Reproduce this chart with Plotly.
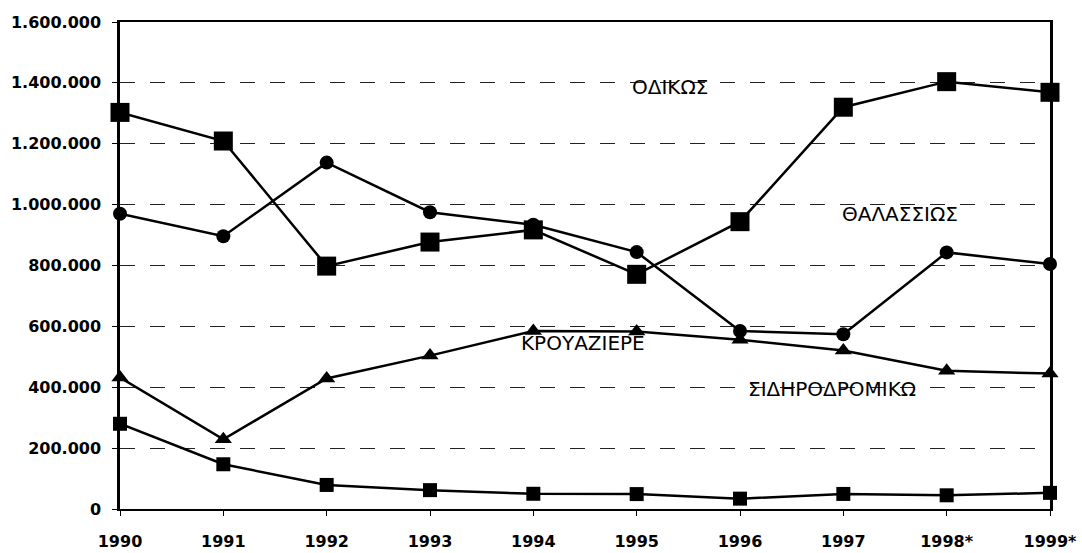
import plotly.graph_objects as go

# Passenger traffic by mode of transport, 1990-1999
years = ["1990", "1991", "1992", "1993", "1994", "1995", "1996", "1997", "1998*", "1999*"]

odikos = [1303000, 1209000, 798000, 877000, 917000, 771000, 944000, 1320000, 1404000, 1369000]
thalassios = [970000, 896000, 1138000, 975000, 934000, 844000, 585000, 574000, 843000, 805000]
krouaziera = [432000, 229000, 429000, 504000, 585000, 583000, 556000, 521000, 454000, 445000]
sidirodromiko = [280000, 147000, 79000, 62000, 50000, 49000, 34000, 49500, 45000, 53000]

y_ticks = [0, 200000, 400000, 600000, 800000, 1000000, 1200000, 1400000, 1600000]
y_tick_text = ["0", "200.000", "400.000", "600.000", "800.000",
               "1.000.000", "1.200.000", "1.400.000", "1.600.000"]

series_labels = ["ΟΔΙΚΩΣ", "ΘΑΛΑΣΣΙΩΣ", "ΚΡΟΥΑΖΙΕΡΕ", "ΣΙΔΗΡΟΔΡΟΜΙΚΩ"]
# label anchor positions (category index, value)
label_pos = [(5.32, 1385000), (7.55, 970000), (4.48, 544000), (6.89, 393000)]

x_idx = list(range(len(years)))

fig = go.Figure()

styles = [
    (odikos, "square", 19),
    (thalassios, "circle", 14),
    (krouaziera, "triangle-up", 15),
    (sidirodromiko, "square", 14),
]
for vals, sym, size in styles:
    fig.add_trace(go.Scatter(
        x=x_idx, y=vals, mode="lines+markers",
        line=dict(color="black", width=2.5),
        marker=dict(symbol=sym, size=size, color="black"),
        cliponaxis=False, showlegend=False,
    ))

for text, (xi, yv) in zip(series_labels, label_pos):
    fig.add_annotation(
        x=xi, y=yv, text=text, showarrow=False,
        font=dict(family="DejaVu Sans", size=20, color="black"),
        xanchor="center", yanchor="middle",
    )

fig.update_layout(
    width=1082, height=553,
    margin=dict(l=120, r=32, t=22, b=44),
    paper_bgcolor="white", plot_bgcolor="white",
    font=dict(family="DejaVu Sans", color="black"),
)

fig.update_xaxes(
    range=[0, 9], tickvals=x_idx, ticktext=years,
    tickfont=dict(family="DejaVu Sans", size=16, color="black", weight="bold"),
    ticklabelstandoff=12, automargin=False,
    showgrid=False, zeroline=False,
    showline=True, linecolor="black", linewidth=2, mirror=True,
    ticks="outside", ticklen=5, tickcolor="black", tickwidth=1,
)

fig.update_yaxes(
    range=[0, 1600000], tickvals=y_ticks, ticktext=y_tick_text,
    tickfont=dict(family="DejaVu Sans", size=16, color="black", weight="bold"),
    ticklabelstandoff=8, automargin=False,
    showgrid=True, gridcolor="#222", gridwidth=1, griddash="longdash",
    zeroline=False,
    showline=True, linecolor="black", linewidth=2.5, mirror=True,
    ticks="outside", ticklen=5, tickcolor="black", tickwidth=1,
)

fig.write_html("out.html")
